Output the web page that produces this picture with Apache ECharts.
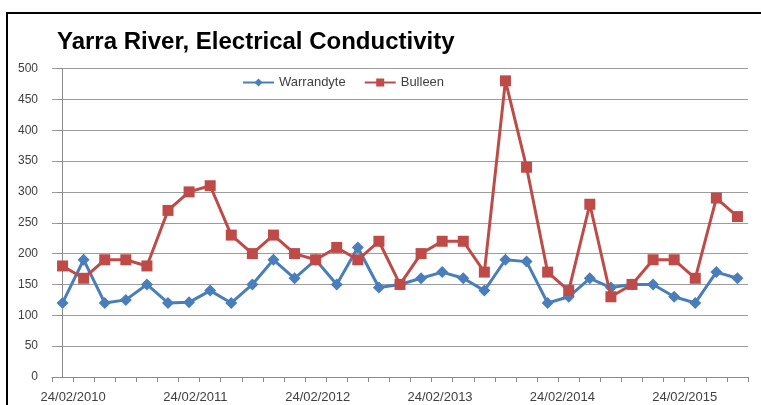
<!DOCTYPE html>
<html>
<head>
<meta charset="utf-8">
<script src="https://cdn.jsdelivr.net/npm/echarts@6/dist/echarts.min.js"></script>
<style>
html,body{margin:0;padding:0;background:#fff;}
#chart{width:761px;height:405px;}
</style>
</head>
<body>
<div id="chart"></div>
<script>
// ---- data ----
var seriesNames = ['Warrandyte', 'Bulleen'];
var warrandyte = [120, 190, 120, 125, 150, 120, 121, 140, 120, 150, 190, 160, 190, 150, 210, 145, 150,
                  160, 170, 160, 140, 190, 187, 120, 130, 160, 145, 150, 150, 130, 120, 170, 160];
var bulleen = [180, 160, 190, 190, 180, 270, 300, 310, 230, 200, 230, 200, 190, 210, 190, 220, 150,
               200, 220, 220, 170, 480, 340, 170, 140, 280, 130, 150, 190, 190, 160, 290, 260];
var dateLabels = ['24/02/2010', '24/02/2011', '24/02/2012', '24/02/2013', '24/02/2014', '24/02/2015'];
// label anchor positions on the sample-index scale (one year ≈ 5.8 samples)
var labelPositions = [0.5, 6.3, 12.1, 17.9, 23.7, 29.5];
var yTicks = [0, 50, 100, 150, 200, 250, 300, 350, 400, 450, 500];

var n = warrandyte.length;
var tickPositions = [];
for (var k = 0; k <= n; k++) tickPositions.push(k - 0.5);

function toPoints(arr) { return arr.map(function (v, i) { return [i, v]; }); }

var chart = echarts.init(document.getElementById('chart'), null, {renderer: 'canvas'});
var fontFam = 'Liberation Sans, Arial, sans-serif';

chart.setOption({
  animation: false,
  backgroundColor: '#ffffff',
  graphic: [{
    type: 'rect', silent: true,
    shape: {x: 7, y: 13, width: 800, height: 500},
    style: {fill: 'none', stroke: '#000000', lineWidth: 2}
  }],
  title: {
    text: 'Yarra River, Electrical Conductivity',
    left: 57, top: 30, padding: 0,
    textStyle: {fontFamily: fontFam, fontSize: 24, fontWeight: 'bold', color: '#000000'}
  },
  legend: {
    data: seriesNames,
    left: 242, top: 76, padding: 0,
    itemWidth: 31, itemHeight: 10, itemGap: 18,
    textStyle: {fontFamily: fontFam, fontSize: 13, color: '#404040'}
  },
  grid: {left: 52, right: 13, top: 68.5, bottom: 28, containLabel: false},
  xAxis: {
    type: 'value',
    min: -0.5, max: n - 0.5,
    splitLine: {show: false},
    axisLine: {show: true, onZero: false, lineStyle: {color: '#8c8c8c', width: 1}},
    axisTick: {show: true, length: 5, customValues: tickPositions, lineStyle: {color: '#8c8c8c'}},
    axisLabel: {
      show: true, margin: 14,
      customValues: labelPositions,
      formatter: function (v) {
        var best = 0, d = Infinity;
        for (var i = 0; i < labelPositions.length; i++) {
          var dd = Math.abs(labelPositions[i] - v);
          if (dd < d) { d = dd; best = i; }
        }
        return dateLabels[best];
      },
      fontFamily: fontFam, fontSize: 13, color: '#404040'
    }
  },
  yAxis: {
    type: 'value',
    min: yTicks[0], max: yTicks[yTicks.length - 1], interval: yTicks[1] - yTicks[0],
    axisLine: {show: true, lineStyle: {color: '#8c8c8c', width: 1}},
    axisTick: {show: true, length: 5, lineStyle: {color: '#8c8c8c'}},
    splitLine: {show: true, lineStyle: {color: '#9c9c9c', width: 1}},
    axisLabel: {margin: 14, fontFamily: fontFam, fontSize: 12, color: '#404040'}
  },
  series: [
    {
      name: seriesNames[0], type: 'line',
      data: toPoints(warrandyte),
      symbol: 'diamond', symbolSize: 12,
      lineStyle: {color: '#4a7ebb', width: 3},
      itemStyle: {color: '#4a7ebb'},
      z: 2
    },
    {
      name: seriesNames[1], type: 'line',
      data: toPoints(bulleen),
      symbol: 'rect', symbolSize: 11,
      lineStyle: {color: '#be4b48', width: 3},
      itemStyle: {color: '#be4b48'},
      z: 3
    }
  ]
});
</script>
</body>
</html>
